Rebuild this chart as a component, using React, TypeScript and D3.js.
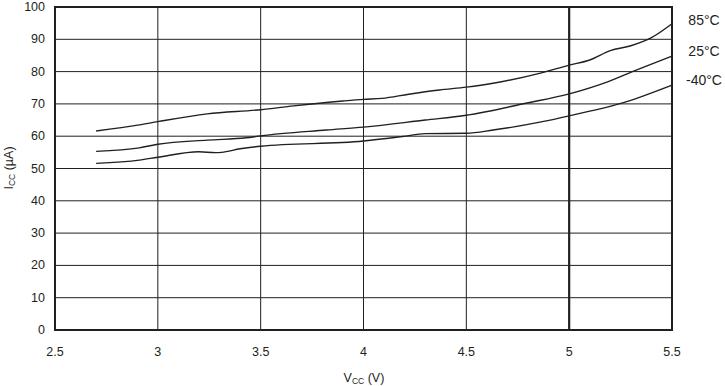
import React from "react";
import * as d3 from "d3";

const xTicks = [2.5, 3, 3.5, 4, 4.5, 5, 5.5];
const xTickLabels = ["2.5", "3", "3.5", "4", "4.5", "5", "5.5"];
const yTicks = [0, 10, 20, 30, 40, 50, 60, 70, 80, 90, 100];

const seriesNames = ["85°C", "25°C", "-40°C"];

const vcc85 = [2.7, 2.91, 3.0, 3.24, 3.5, 3.66, 3.9, 4.0, 4.09, 4.22, 4.37, 4.5, 4.63, 4.87, 5.0, 5.1, 5.2, 5.3, 5.4, 5.5];
const icc85 = [61.6, 63.5, 64.5, 66.9, 68.2, 69.4, 70.9, 71.4, 71.7, 73.0, 74.3, 75.2, 76.4, 79.7, 82.0, 83.6, 86.5, 88.0, 90.5, 94.8];

const vcc25 = [2.7, 2.91, 3.0, 3.24, 3.43, 3.5, 3.82, 4.0, 4.3, 4.5, 4.79, 5.0, 5.19, 5.32, 5.5];
const icc25 = [55.3, 56.4, 57.5, 58.8, 59.5, 60.1, 61.9, 62.8, 65.0, 66.5, 70.2, 73.1, 76.9, 80.3, 84.8];

const vccM40 = [2.7, 2.91, 3.0, 3.2, 3.28, 3.31, 3.4, 3.5, 4.0, 4.19, 4.3, 4.5, 4.63, 4.87, 5.0, 5.28, 5.5];
const iccM40 = [51.6, 52.6, 53.5, 55.2, 54.9, 55.0, 56.1, 56.9, 58.5, 59.9, 60.8, 60.9, 61.9, 64.5, 66.3, 70.7, 75.8];

const seriesX = [vcc85, vcc25, vccM40];
const seriesY = [icc85, icc25, iccM40];

const W = 725;
const H = 386;
const L = 55, R = 672, T = 7, B = 330;
const INK = "#231f20";
const FONT = "Liberation Sans, Arial, Helvetica, sans-serif";

export default function App() {
  const x = d3.scaleLinear().domain([2.5, 5.5]).range([L, R]);
  const y = d3.scaleLinear().domain([0, 100]).range([B, T]);
  const line = d3
    .line<[number, number]>()
    .x((d) => x(d[0]))
    .y((d) => y(d[1]))
    .curve(d3.curveMonotoneX);

  return (
    <svg
      width={W}
      height={H}
      style={{ position: "absolute", left: 0, top: 0, background: "#fff" }}
      fontFamily={FONT}
    >
      <rect x={0} y={0} width={W} height={H} fill="#fff" />
      {/* horizontal grid */}
      {yTicks.slice(1, -1).map((t) => (
        <line key={"h" + t} x1={L} x2={R} y1={y(t)} y2={y(t)} stroke={INK} strokeWidth={1} />
      ))}
      {/* vertical grid */}
      {xTicks.slice(1, -1).map((t) => (
        <line
          key={"v" + t}
          x1={x(t)}
          x2={x(t)}
          y1={T}
          y2={B}
          stroke={INK}
          strokeWidth={t === 5 ? 2.2 : 1}
        />
      ))}
      {/* curves */}
      {seriesX.map((xs, i) => (
        <path
          key={"s" + i}
          d={line(xs.map((v, j) => [v, seriesY[i][j]] as [number, number])) || ""}
          fill="none"
          stroke={INK}
          strokeWidth={1.4}
        />
      ))}
      {/* frame */}
      <rect x={L} y={T} width={R - L} height={B - T} fill="none" stroke={INK} strokeWidth={2} />
      {/* y tick labels */}
      {yTicks.map((t) => (
        <text
          key={"yl" + t}
          x={45}
          y={y(t)}
          textAnchor="end"
          dominantBaseline="central"
          fontSize={12.5}
          fill={INK}
        >
          {t}
        </text>
      ))}
      {/* x tick labels */}
      {xTicks.map((t, i) => (
        <text
          key={"xl" + t}
          x={x(t)}
          y={352}
          textAnchor="middle"
          dominantBaseline="central"
          fontSize={12.5}
          fill={INK}
        >
          {xTickLabels[i]}
        </text>
      ))}
      {/* series labels */}
      {seriesNames.map((n, i) => (
        <text
          key={"n" + i}
          x={704}
          y={[20, 51, 80][i]}
          textAnchor="middle"
          dominantBaseline="central"
          fontSize={14}
          fill={INK}
        >
          {n}
        </text>
      ))}
      {/* x axis title */}
      <text x={364} y={382} textAnchor="middle" fontSize={12.5} fill={INK}>
        V<tspan fontSize={8.5} dy={2}>CC</tspan>
        <tspan dy={-2}> (V)</tspan>
      </text>
      {/* y axis title */}
      <text
        transform={`translate(13,${168}) rotate(-90)`}
        textAnchor="middle"
        fontSize={12.5}
        fill={INK}
      >
        I<tspan fontSize={8.5} dy={2}>CC</tspan>
        <tspan dy={-2}> (µA)</tspan>
      </text>
    </svg>
  );
}
